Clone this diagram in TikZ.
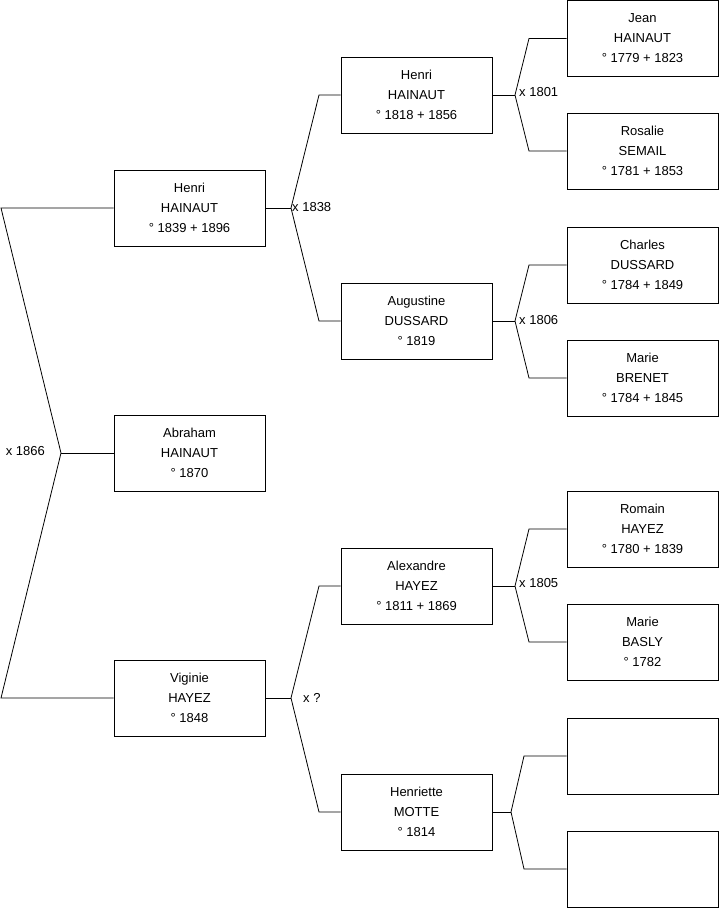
\documentclass[tikz,border=0pt]{standalone}
\usepackage{fontspec}
\setmainfont{Liberation Sans}
\begin{document}
\begin{tikzpicture}[x=1pt,y=-1pt,
  person/.style={draw=black, line width=0.9pt, minimum width=151pt, minimum height=76pt, inner sep=0pt, align=center, font=\fontsize{13}{20}\selectfont},
  link/.style={draw=black, line width=0.8pt},
  lbl/.style={font=\fontsize{13}{15}\selectfont, inner sep=1pt}]
\useasboundingbox (0,0) rectangle (719,908);
% generation 2
\node[person] (henriA) at (189.5,208) {Henri\\HAINAUT\\° 1839 + 1896};
\node[person] (abraham) at (189.5,453) {Abraham\\HAINAUT\\° 1870};
\node[person] (viginie) at (189.5,698) {Viginie\\HAYEZ\\° 1848};
% generation 3
\node[person] (henriB) at (416.5,95) {Henri\\HAINAUT\\° 1818 + 1856};
\node[person] (augustine) at (416.5,321) {Augustine\\DUSSARD\\° 1819};
\node[person] (alexandre) at (416.5,586) {Alexandre\\HAYEZ\\° 1811 + 1869};
\node[person] (henriette) at (416.5,812) {Henriette\\MOTTE\\° 1814};
% generation 4
\node[person] (jean) at (642.5,38.5) {Jean\\HAINAUT\\° 1779 + 1823};
\node[person] (rosalie) at (642.5,151) {Rosalie\\SEMAIL\\° 1781 + 1853};
\node[person] (charles) at (642.5,265) {Charles\\DUSSARD\\° 1784 + 1849};
\node[person] (marieA) at (642.5,378) {Marie\\BRENET\\° 1784 + 1845};
\node[person] (romain) at (642.5,529) {Romain\\HAYEZ\\° 1780 + 1839};
\node[person] (marieB) at (642.5,642) {Marie\\BASLY\\° 1782};
\node[person] (blankA) at (642.5,756) {};
\node[person] (blankB) at (642.5,869) {};
% fork 0
\coordinate (a1) at (1,208);
\coordinate (a2) at (1,698);
\coordinate (f0) at (61,453);
\draw[link] (henriA.west) -- (a1) -- (f0) -- (a2) -- (viginie.west);
\draw[link] (f0) -- (abraham.west);
\node[lbl, anchor=east] (m0) at (46,451) {x 1866};
% fork 1
\coordinate (f1) at (291,208);
\coordinate (c1a) at (319,95);
\coordinate (c1b) at (319,321);
\draw[link] (henriA.east) -- (f1);
\draw[link] (henriB.west) -- (c1a) -- (f1) -- (c1b) -- (augustine.west);
\node[lbl, anchor=west] (m1) at (291,207) {x 1838};
% fork 2
\coordinate (f2) at (515,95);
\coordinate (c2a) at (529,38.5);
\coordinate (c2b) at (529,151);
\draw[link] (henriB.east) -- (f2);
\draw[link] (jean.west) -- (c2a) -- (f2) -- (c2b) -- (rosalie.west);
\node[lbl, anchor=west] (m2) at (518,92) {x 1801};
% fork 3
\coordinate (f3) at (515,321);
\coordinate (c3a) at (529,265);
\coordinate (c3b) at (529,378);
\draw[link] (augustine.east) -- (f3);
\draw[link] (charles.west) -- (c3a) -- (f3) -- (c3b) -- (marieA.west);
\node[lbl, anchor=west] (m3) at (518,320) {x 1806};
% fork 4
\coordinate (f4) at (291,698);
\coordinate (c4a) at (319,586);
\coordinate (c4b) at (319,812);
\draw[link] (viginie.east) -- (f4);
\draw[link] (alexandre.west) -- (c4a) -- (f4) -- (c4b) -- (henriette.west);
\node[lbl, anchor=west] (m4) at (302,698) {x ?};
% fork 5
\coordinate (f5) at (515,586);
\coordinate (c5a) at (529,529);
\coordinate (c5b) at (529,642);
\draw[link] (alexandre.east) -- (f5);
\draw[link] (romain.west) -- (c5a) -- (f5) -- (c5b) -- (marieB.west);
\node[lbl, anchor=west] (m5) at (518,583) {x 1805};
% fork 6
\coordinate (f6) at (511,812);
\coordinate (c6a) at (524,756);
\coordinate (c6b) at (524,869);
\draw[link] (henriette.east) -- (f6);
\draw[link] (blankA.west) -- (c6a) -- (f6) -- (c6b) -- (blankB.west);
\end{tikzpicture}
\end{document}
